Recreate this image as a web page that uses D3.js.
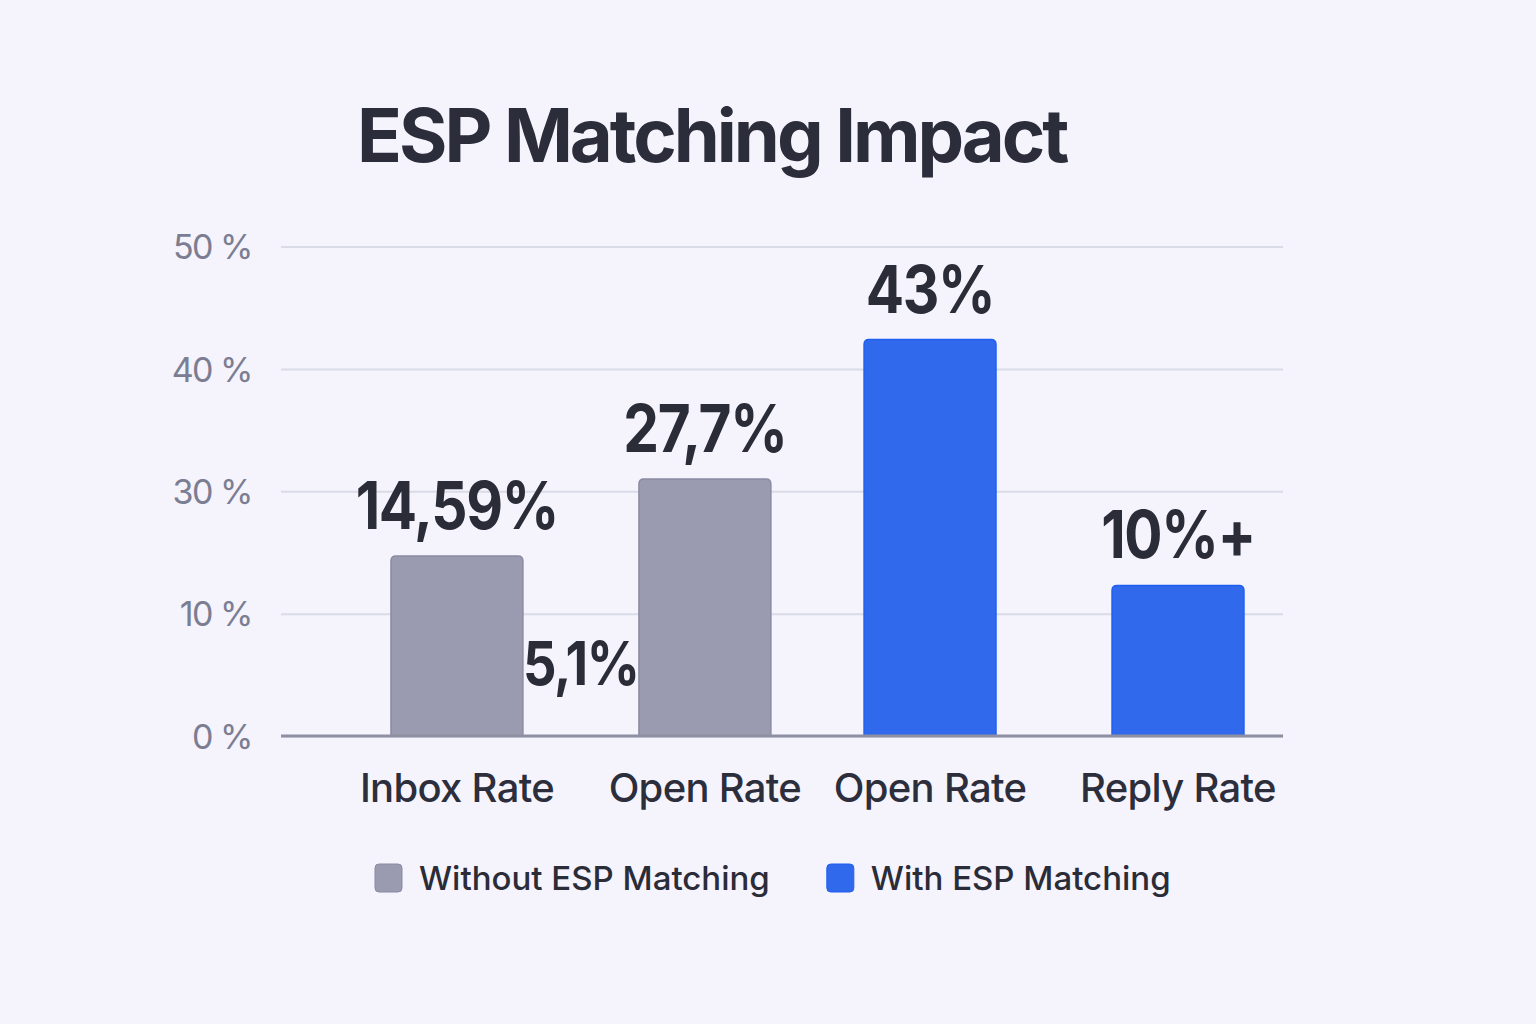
<!DOCTYPE html>
<html>
<head>
<meta charset="utf-8">
<script src="https://cdn.jsdelivr.net/npm/d3@7"></script>
<style>
  html, body { margin: 0; background: #f5f3fc; }
  svg { display: block; font-family: Inter, "Noto Sans", sans-serif; }
</style>
</head>
<body>
<svg id="chart" width="1536" height="1024"></svg>
<script>
// data (bar heights in axis units, labels as printed)
const categories = ["Inbox Rate", "Open Rate", "Open Rate", "Reply Rate"];
const groups = ["without", "without", "with", "with"];
const slots = [0, 1, 0, 1];
const values = [14.7, 21.0, 32.4, 12.3];
const valueLabels = ["14,59%", "27,7%", "43%", "10%+"];
const tickValues = [0, 10, 20, 30, 40];
const tickLabels = ["0 %", "10 %", "30 %", "40 %", "50 %"];
const legendKeys = ["without", "with"];
const legendLabels = ["Without ESP Matching", "With ESP Matching"];
// floating label between the two grey bars
const extraLabelText = "5,1%";
const extraLabelValue = 4.2;

const colors = { without: "#9a9bb1", with: "#3069eb" };
const strokes = { without: "#8a8ba2", with: "#1f5ff0" };

const svg = d3.select("#chart");
const plot = { left: 281, right: 1283, top: 246.5, bottom: 736 };

const x0 = d3.scaleBand()
  .domain(legendKeys)
  .range([plot.left, plot.right])
  .paddingInner(0.197)
  .paddingOuter(0.1575)
  .align(0.738);

const x1 = d3.scaleBand()
  .domain([0, 1])
  .range([0, x0.bandwidth()])
  .paddingInner(0.468);

const barX = i => x0(groups[i]) + x1(slots[i]);
const barMid = i => barX(i) + x1.bandwidth() / 2;

const y = d3.scaleLinear()
  .domain([0, 40])
  .range([plot.bottom, plot.top]);

// title
svg.append("text")
  .attr("x", 357)
  .attr("y", 162)
  .attr("font-size", 74)
  .attr("font-weight", 700)
  .attr("letter-spacing", "-3px")
  .attr("fill", "#2b2d3a")
  .text("ESP Matching Impact");

// grid + y labels
const yAxis = svg.append("g")
  .attr("transform", `translate(${plot.left},0)`)
  .call(d3.axisLeft(y)
    .tickValues(tickValues)
    .tickFormat((d, i) => tickLabels[i])
    .tickSize(-(plot.right - plot.left))
    .tickPadding(29));

yAxis.select(".domain").remove();
yAxis.selectAll(".tick line")
  .attr("stroke", "#d9dbe7")
  .attr("stroke-width", 2);
yAxis.selectAll(".tick text")
  .attr("dy", "0.36em")
  .attr("font-family", "Inter, 'Noto Sans', sans-serif")
  .attr("font-size", 34)
  .attr("letter-spacing", "-1.5px")
  .attr("fill", "#7b7e92");

function topRounded(xa, ya, w, h, r) {
  return `M${xa},${ya + h}V${ya + r}Q${xa},${ya} ${xa + r},${ya}` +
    `H${xa + w - r}Q${xa + w},${ya} ${xa + w},${ya + r}V${ya + h}Z`;
}

// bars
svg.append("g")
  .selectAll("path")
  .data(values)
  .join("path")
  .attr("d", (d, i) => topRounded(barX(i), y(d), x1.bandwidth(), y(0) - y(d), 5))
  .attr("fill", (d, i) => colors[groups[i]])
  .attr("stroke", (d, i) => strokes[groups[i]])
  .attr("stroke-width", 1.5);

// baseline
svg.append("line")
  .attr("x1", plot.left)
  .attr("x2", plot.right)
  .attr("y1", y(0))
  .attr("y2", y(0))
  .attr("stroke", "#8e90a2")
  .attr("stroke-width", 3);

// value labels (the source font is a condensed bold, so squeeze Inter a bit)
const valueStyle = (sel, size) => sel
  .attr("text-anchor", "middle")
  .attr("font-size", size)
  .attr("font-weight", 700)
  .attr("letter-spacing", "-1.5px")
  .attr("fill", "#2a2c38");

svg.append("g")
  .selectAll("text")
  .data(values)
  .join("text")
  .attr("transform", (d, i) => `translate(${barMid(i)},${y(d) - 27}) scale(0.86,1)`)
  .call(valueStyle, 66)
  .text((d, i) => valueLabels[i]);

svg.append("text")
  .attr("transform", `translate(${x0("without") + x0.bandwidth() / 2},${y(extraLabelValue)}) scale(0.86,1)`)
  .call(valueStyle, 61)
  .text(extraLabelText);

// category labels
svg.append("g")
  .selectAll("text")
  .data(categories)
  .join("text")
  .attr("x", (d, i) => barMid(i))
  .attr("y", plot.bottom + 66)
  .attr("text-anchor", "middle")
  .attr("font-size", 40)
  .attr("font-weight", 500)
  .attr("letter-spacing", "-0.7px")
  .attr("fill", "#2c2e3c")
  .text(d => d);

// legend
const legend = svg.append("g").attr("transform", "translate(375,864)");
let lx = 0;
legendKeys.forEach((k, i) => {
  const item = legend.append("g").attr("transform", `translate(${lx},0)`);
  item.append("rect")
    .attr("width", 27)
    .attr("height", 28)
    .attr("rx", 4)
    .attr("fill", colors[k])
    .attr("stroke", strokes[k])
    .attr("stroke-width", 1);
  const t = item.append("text")
    .attr("x", 44)
    .attr("y", 26)
    .attr("font-size", 33)
    .attr("font-weight", 500)
    .attr("letter-spacing", "0px")
    .attr("fill", "#2a2c38")
    .text(legendLabels[i]);
  lx += 44 + t.node().getComputedTextLength() + 57;
});
</script>
</body>
</html>
